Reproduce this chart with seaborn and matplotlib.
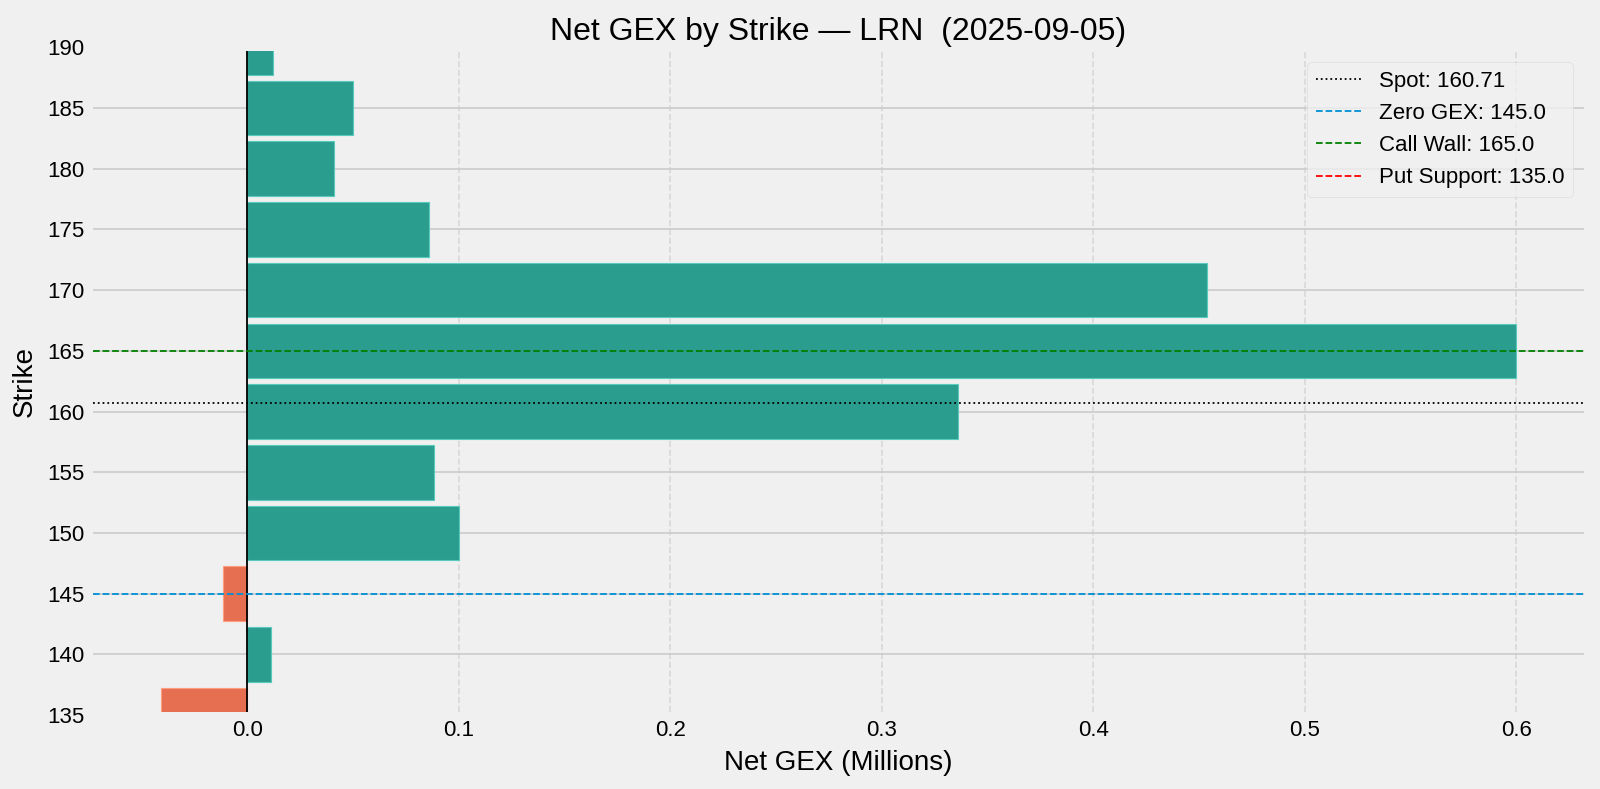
import matplotlib
matplotlib.use("Agg")
import matplotlib.pyplot as plt
import matplotlib.transforms as mtransforms
import seaborn as sns
import pandas as pd

strikes = [135, 140, 145, 150, 155, 160, 165, 170, 175, 180, 185, 190]
net_gex = [-0.041, 0.011, -0.0115, 0.100, 0.0885, 0.336, 0.600, 0.454, 0.086, 0.041, 0.050, 0.012]
spot = 160.71
zero_gex = 145.0
call_wall = 165.0
put_support = 135.0
title = "Net GEX by Strike \u2014 LRN  (2025-09-05)"

plt.style.use("fivethirtyeight")
plt.rcParams["font.family"] = ["Liberation Sans", "DejaVu Sans"]

df = pd.DataFrame({"strike": strikes, "gex": net_gex})
df["sign"] = ["pos" if v >= 0 else "neg" for v in df["gex"]]

fig = plt.figure(figsize=(16, 7.89), dpi=100)
fig.patch.set_facecolor("#f0f0f0")
ax = fig.add_axes([0.058, 0.0976, 0.932, 0.8378])
ax.set_facecolor("#f0f0f0")

sns.barplot(data=df, x="gex", y="strike", hue="sign", orient="h", native_scale=True,
            palette={"pos": "#2a9d8f", "neg": "#e76f51"}, saturation=1, width=0.9,
            dodge=False, linewidth=0.8, legend=False, ax=ax, zorder=2)
for p in ax.patches:
    fc = p.get_facecolor()
    p.set_edgecolor((min(1, fc[0] + 0.18), min(1, fc[1] + 0.18), min(1, fc[2] + 0.18), 1))

ax.axvline(0, color="black", lw=1.3, zorder=3)
ax.axhline(spot, color="black", ls=":", lw=1.3, label=f"Spot: {spot:.2f}", zorder=4)
ax.axhline(zero_gex, color="#008fd5", ls="--", lw=1.3, label=f"Zero GEX: {zero_gex}", zorder=4)
ax.axhline(call_wall, color="green", ls="--", lw=1.3, label=f"Call Wall: {call_wall}", zorder=4)
ax.axhline(put_support, color="red", ls="--", lw=1.3, label=f"Put Support: {put_support}", zorder=4)

ax.set_yticks(strikes)
ax.set_ylim(min(strikes) + 0.25, max(strikes) - 0.3)
ax.grid(axis="y", color="#cbcbcb", lw=1.2, ls="-")
ax.grid(axis="x", color="#d9d9d9", lw=1.2, ls="--")
ax.set_axisbelow(True)
for s in ax.spines.values():
    s.set_visible(False)

tick_fs = 16
ax.tick_params(axis="both", labelsize=tick_fs, length=0, pad=6)
# edge strikes sit just outside the clipped view; label them like ticks
lab_tr = mtransforms.offset_copy(ax.get_yaxis_transform(), fig=fig, x=-6, y=0, units="points")
lo, hi = ax.get_ylim()
for s in strikes:
    if s < lo or s > hi:
        ax.text(0, s, str(s), transform=lab_tr, ha="right", va="center_baseline",
                fontsize=tick_fs, clip_on=False)

ax.set_xlabel("Net GEX (Millions)", fontsize=20, labelpad=6)
ax.set_ylabel("Strike", fontsize=20, labelpad=7)
ax.set_title(title, fontsize=23, pad=8)

leg = ax.legend(loc="upper right", fontsize=16, frameon=True, facecolor="#f0f0f0",
                edgecolor="#d8d8d8", framealpha=0.8)

fig.savefig("out.png", dpi=100, facecolor=fig.get_facecolor())
